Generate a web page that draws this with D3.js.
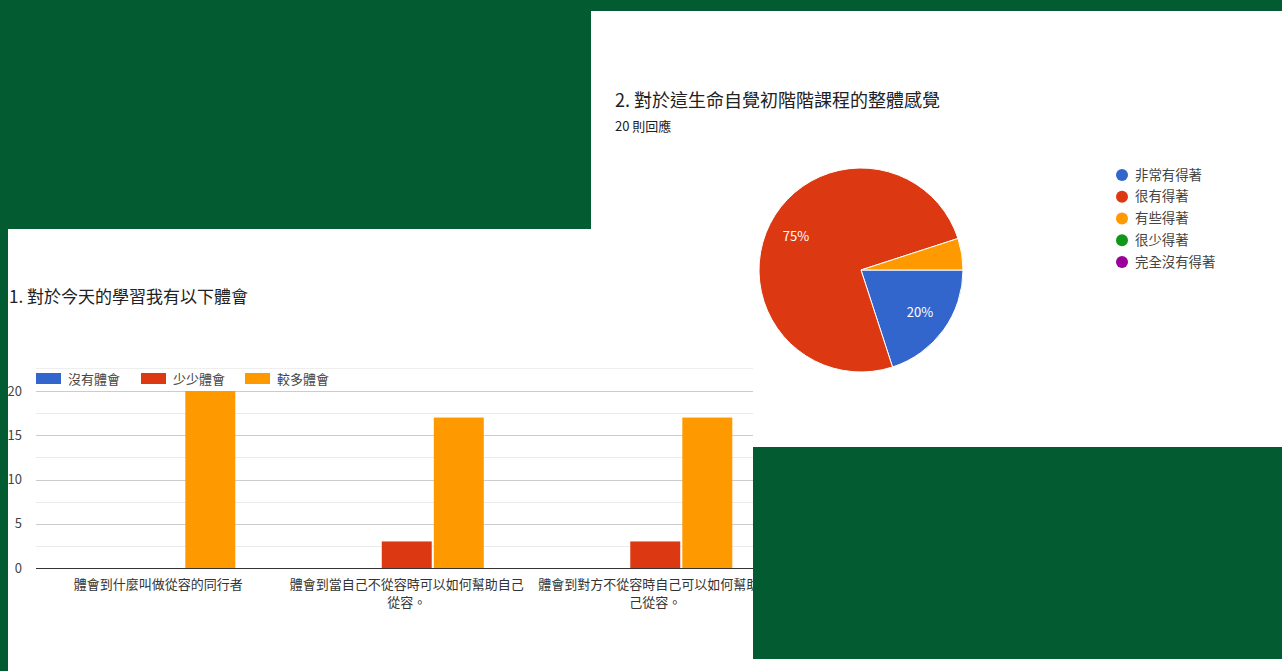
<!DOCTYPE html>
<html>
<head>
<meta charset="utf-8">
<script src="https://cdn.jsdelivr.net/npm/d3@7/dist/d3.min.js"></script>
<style>
  html, body { margin: 0; padding: 0; background: #035b31; }
  svg { display: block; }
  text { font-family: "Noto Sans CJK TC", "Noto Sans", sans-serif; }
</style>
</head>
<body>
<svg id="chart" width="1282" height="671"></svg>
<script>
// ---- Bar chart data ----
const barTitle = "1. 對於今天的學習我有以下體會";
const barCategories = [
  "體會到什麼叫做從容的同行者",
  "體會到當自己不從容時可以如何幫助自己從容。",
  "體會到對方不從容時自己可以如何幫助自己從容。"
];
const barSeries = ["沒有體會", "少少體會", "較多體會"];
const noneValues = [0, 0, 0];
const littleValues = [0, 3, 3];
const moreValues = [20, 17, 17];
const barColors = ["#3366cc", "#dc3912", "#ff9900"];
const yTicks = [0, 5, 10, 15, 20];
const yMinorTicks = [2.5, 7.5, 12.5, 17.5];

// ---- Pie chart data ----
const pieTitle = "2. 對於這生命自覺初階階課程的整體感覺";
const pieSubtitle = "20 則回應";
const pieLabels = ["非常有得著", "很有得著", "有些得著", "很少得著", "完全沒有得著"];
const pieValues = [4, 15, 1, 0, 0];
const pieColors = ["#3366cc", "#dc3912", "#ff9900", "#109618", "#990099"];

const svg = d3.select("#chart");
const green = "#035b31";

svg.append("rect").attr("x", 0).attr("y", 0).attr("width", 1282).attr("height", 671).attr("fill", green);

// ---------- Right panel (pie) ----------
const rp = svg.append("g");
rp.append("rect").attr("x", 591).attr("y", 11).attr("width", 691).attr("height", 436).attr("fill", "#fff");
rp.append("text").attr("x", 615).attr("y", 107).attr("font-size", 18).attr("fill", "#212121").text(pieTitle);
rp.append("text").attr("x", 615).attr("y", 131).attr("font-size", 13).attr("fill", "#212121").text(pieSubtitle);

const radius = 102;
const pieG = rp.append("g").attr("transform", "translate(861,270)");
const pie = d3.pie().sort(null).startAngle(Math.PI / 2).endAngle(Math.PI / 2 + 2 * Math.PI).value(d => d.v);
const pieData = pie(pieLabels.map((l, i) => ({ l, v: pieValues[i], c: pieColors[i] })));
const arc = d3.arc().innerRadius(0).outerRadius(radius);
const labelArc = d3.arc().innerRadius(73).outerRadius(73);
pieG.selectAll("path").data(pieData.filter(d => d.data.v > 0)).join("path")
  .attr("d", arc).attr("fill", d => d.data.c).attr("stroke", "#fff").attr("stroke-width", 1);
const total = d3.sum(pieValues);
pieG.selectAll("text.pl").data(pieData.filter(d => d.data.v / total >= 0.1)).join("text")
  .attr("class", "pl")
  .attr("transform", d => `translate(${labelArc.centroid(d)})`)
  .attr("text-anchor", "middle").attr("dy", "0.35em")
  .attr("font-size", 13).attr("fill", "#fff")
  .text(d => Math.round(d.data.v / total * 100) + "%");

const legY = d3.scalePoint().domain(pieLabels).range([175, 262]);
const pl = rp.append("g");
pl.selectAll("circle").data(pieLabels).join("circle")
  .attr("cx", 1122).attr("cy", d => legY(d)).attr("r", 6)
  .attr("fill", (d, i) => pieColors[i]);
pl.selectAll("text").data(pieLabels).join("text")
  .attr("x", 1135).attr("y", d => legY(d)).attr("dy", "0.35em")
  .attr("font-size", 13.4).attr("fill", "#444").text(d => d);

// ---------- Left panel (bars) ----------
svg.append("rect").attr("x", 8).attr("y", 229).attr("width", 745).attr("height", 442).attr("fill", "#fff");
svg.append("rect").attr("x", 753).attr("y", 659).attr("width", 529).attr("height", 12).attr("fill", "#fff");

svg.append("defs").append("clipPath").attr("id", "leftClip")
  .append("rect").attr("x", 8).attr("y", 229).attr("width", 745).attr("height", 442);
const lp = svg.append("g").attr("clip-path", "url(#leftClip)");

lp.append("text").attr("x", 9).attr("y", 303).attr("font-size", 17).attr("fill", "#212121").text(barTitle);

const y = d3.scaleLinear().domain([0, 20]).range([568, 391]);
const x0 = d3.scaleBand().domain(barCategories).range([34, 779.5]).paddingInner(0.38).paddingOuter(0.19);
const x1 = d3.scaleBand().domain(barSeries).range([0, x0.bandwidth()]).paddingInner(0.04);

// top faint line above legend
lp.append("line").attr("x1", 36).attr("x2", 790).attr("y1", 368.5).attr("y2", 368.5).attr("stroke", "#eeeeee");

// minor gridlines
lp.selectAll("line.minor").data(yMinorTicks).join("line").attr("class", "minor")
  .attr("x1", 36).attr("x2", 790)
  .attr("y1", d => Math.round(y(d)) + 0.5).attr("y2", d => Math.round(y(d)) + 0.5)
  .attr("stroke", "#ebebeb");
// major gridlines
lp.selectAll("line.major").data(yTicks.filter(t => t > 0)).join("line").attr("class", "major")
  .attr("x1", 36).attr("x2", 790)
  .attr("y1", d => Math.round(y(d)) + 0.5).attr("y2", d => Math.round(y(d)) + 0.5)
  .attr("stroke", "#cccccc");

// y axis labels via d3 axis
const yAxis = lp.append("g").attr("transform", "translate(22,0)")
  .call(d3.axisLeft(y).tickValues(yTicks).tickSize(0).tickPadding(0).tickFormat(d3.format("d")));
yAxis.select(".domain").remove();
yAxis.selectAll("text").attr("font-size", 13).attr("fill", "#444")
  .attr("font-family", "'Noto Sans CJK TC', 'Noto Sans', sans-serif");

// bars
const seriesValues = [noneValues, littleValues, moreValues];
const groups = lp.selectAll("g.grp").data(barCategories).join("g").attr("class", "grp")
  .attr("transform", d => `translate(${x0(d)},0)`);
groups.selectAll("rect").data((d, ci) => barSeries.map((s, si) => ({ s, si, v: seriesValues[si][ci] })).filter(e => e.v > 0))
  .join("rect")
  .attr("x", d => x1(d.s)).attr("width", x1.bandwidth())
  .attr("y", d => y(d.v)).attr("height", d => y(0) - y(d.v))
  .attr("fill", d => barColors[d.si]);

// baseline
lp.append("line").attr("x1", 36).attr("x2", 790).attr("y1", y(0) + 0.5).attr("y2", y(0) + 0.5)
  .attr("stroke", "#333").attr("stroke-width", 1);

// category labels (wrap at 18 chars)
const maxChars = 18;
groups.each(function (d) {
  const g = d3.select(this);
  const lines = [];
  for (let i = 0; i < d.length; i += maxChars) lines.push(d.slice(i, i + maxChars));
  const t = g.append("text").attr("text-anchor", "middle").attr("font-size", 13).attr("fill", "#333");
  lines.forEach((ln, i) => {
    t.append("tspan").attr("x", x0.bandwidth() / 2).attr("y", 589 + i * 18).text(ln);
  });
});

// legend
const legX = [36, 141, 245];
const bl = lp.append("g");
barSeries.forEach((s, i) => {
  bl.append("rect").attr("x", legX[i]).attr("y", 373).attr("width", 25).attr("height", 11).attr("fill", barColors[i]);
  bl.append("text").attr("x", legX[i] + 32).attr("y", 383.5).attr("font-size", 13).attr("fill", "#444").text(s);
});
</script>
</body>
</html>
